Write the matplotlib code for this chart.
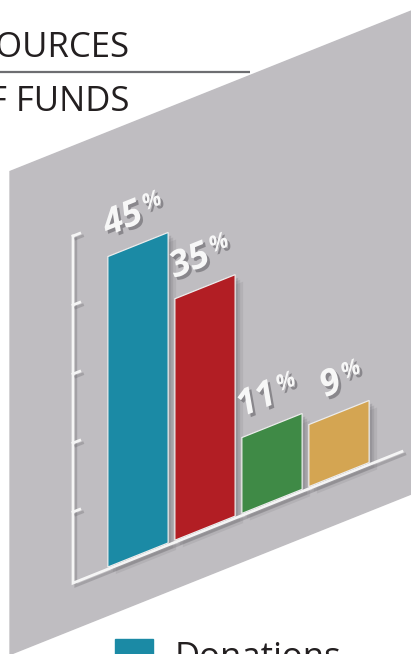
import numpy as np
import matplotlib
matplotlib.use("Agg")
import matplotlib.pyplot as plt
import matplotlib.patheffects as pe
from matplotlib.transforms import Affine2D, ScaledTranslation
from matplotlib.patches import Rectangle

# === DATA ===
categories = ["Donations", "Grants", "Events", "Other"]
shares = [45, 35, 11, 9]
labels = ["45", "35", "11", "9"]
colors = ["#1b8aa5", "#b21e24", "#3f8a46", "#d4a552"]
y_ticks = [10, 20, 30, 40, 50]
# ============

fig = plt.figure(figsize=(4.11, 6.54), dpi=100)
ax = fig.add_axes([0, 0, 1, 1])
ax.set_xlim(0, 411)
ax.set_ylim(654, 0)
ax.axis("off")

# sheared "3d wall" coordinates: u = category slot, v = percent
wall = Affine2D(np.array([[67.0, 0.0, 138.0],
                          [-26.8, -6.9, 555.0],
                          [0.0, 0.0, 1.0]])) + ax.transData

def shifted(dx, dy):
    return wall + ScaledTranslation(dx / 100, -dy / 100, fig.dpi_scale_trans)

# gray wall
ax.fill([-1.91, 4.5, 4.5, -1.91], [-7, -7, 63.0, 63.0],
        color="#bfbdc1", transform=wall, zorder=0)

# title
title_font = dict(family="Open Sans", fontsize=25, color="#231f20", ha="right")
ax.text(129, 57, "SOURCES", **title_font)
ax.text(129, 111, "OF FUNDS", **title_font)
ax.plot([0, 250], [72, 72], color="#6d6e71", lw=1.6, solid_capstyle="butt")

x = np.arange(len(shares))

# soft shadows behind the bars
for dx, dy, a in [(3, 3, 0.25), (5, 5, 0.2), (8, 7, 0.15)]:
    ax.bar(x, shares, width=0.9, color="#6f6d72", alpha=a, lw=0,
           transform=shifted(dx, dy), zorder=1)

ax.bar(x, shares, width=0.9, color=colors, edgecolor="#ececec", lw=0.9,
       transform=wall, zorder=3)

# axis lines with ticks
ua = -0.97
axis_fx = [pe.SimpleLineShadow(offset=(2, -2), shadow_color="#6f6d72", alpha=0.35),
           pe.Normal()]
ax.plot([ua, ua, 3.94], [y_ticks[-1], -0.3, -0.3], color="#f5f5f5", lw=2,
        transform=wall, zorder=2, path_effects=axis_fx, solid_joinstyle="miter")
for t in y_ticks:
    ax.plot([ua, ua + 0.1], [t, t], color="#f5f5f5", lw=2,
            transform=wall, zorder=2, path_effects=axis_fx)

# value labels: number + raised smaller percent sign
txt_fx = [pe.SimplePatchShadow(offset=(2, -2), shadow_rgbFace="#555358", alpha=0.5),
          pe.Normal()]
lab_font = dict(fontweight="bold", fontstyle="italic", family="Open Sans",
                color="#f7f7f7", va="baseline", rotation=21.8,
                rotation_mode="anchor", path_effects=txt_fx, zorder=4,
                transform=wall)
for i, (v, lab) in enumerate(zip(shares, labels)):
    j = i + 0.04 + 0.03 * len(lab)
    ax.text(j, v + 3.0, lab, fontsize=26, ha="right", **lab_font)
    ax.text(j + 0.01, v + 4.5, "%", fontsize=16, ha="left", **lab_font)

# legend (only the first row falls inside the crop)
for i, (cat, c) in enumerate(zip(categories, colors)):
    ax.add_patch(Rectangle((115, 639 + i * 55), 38, 38, color=c, zorder=2))
    ax.text(175, 667 + i * 55, cat, family="Open Sans", fontsize=25,
            color="#231f20", ha="left", va="baseline")

fig.savefig("out.png", dpi=100)
